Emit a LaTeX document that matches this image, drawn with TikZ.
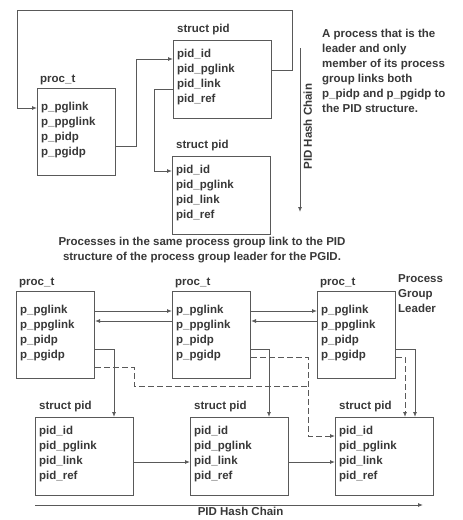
\documentclass[tikz,border=0pt]{standalone}
\usepackage{fontspec}
\setmainfont{Liberation Sans}
\usetikzlibrary{arrows.meta,calc}

\definecolor{linegray}{gray}{0.35}
\definecolor{textgray}{gray}{0.22}

\begin{document}
\begin{tikzpicture}[x=1pt,y=-1pt,
  every node/.style={font=\fontsize{11.5}{15}\selectfont\bfseries, text=textgray},
  procbox/.style={draw=linegray, line width=1pt, anchor=north west, minimum width=78pt, minimum height=87pt, inner sep=0},
  pidbox/.style={procbox, minimum width=98pt, minimum height=78pt},
  field/.style={anchor=west, inner sep=0},
  title/.style={anchor=base west, inner sep=0},
  link/.style={draw=linegray, line width=0.9pt, -{Latex[length=5pt,width=4pt]}},
  pglink/.style={link, dash pattern=on 6pt off 3pt},
]
\useasboundingbox (0,0) rectangle (463,520);

% proc_t boxes
\foreach \n/\x/\y in {procA/37/88, procL/16/291, procM/172/291, procR/317/291} {
  \node[procbox] (\n) at (\x,\y) {};
  \node[title] at ($(\n.north west)+(3,-6)$) {proc\_t};
  \foreach \f [count=\i] in {p\_pglink,p\_ppglink,p\_pidp,p\_pgidp}
    \node[field] (\n-\i) at ($(\n.north west)+(4,{5+15*\i})$) {\f};
}

% struct pid boxes
\foreach \n/\x/\y in {pidA/173/40, pidB/172/156, pidL/35/417, pidM/190/417, pidR/335/417} {
  \node[pidbox] (\n) at (\x,\y) {};
  \node[title] at ($(\n.north west)+(4,-8)$) {struct pid};
  \foreach \f [count=\i] in {pid\_id,pid\_pglink,pid\_link,pid\_ref}
    \node[field] (\n-\i) at ($(\n.north west)+(4,{15*\i})$) {\f};
}

% top: leader alone in its group
\draw[link] (pidA.east |- pidA-2) -- ++(20,0) |- (17,10) |- (procA.west |- procA-1);
\draw[link] ($(procA.east |- procA-3)+(0,8)$) -- ++(20,0) |- ($(pidA.west |- pidA-1)+(0,4)$);
\draw[link] ($(pidA.west |- pidA-3)+(0,4)$) -- ++(-19,0) |- (pidB.west |- pidB-1);

\coordinate (chainA) at (300,48);
\coordinate (chainB) at (300,212);
\draw[link] (chainA) -- (chainB) node[pos=0.48, rotate=90, anchor=north, inner sep=3pt] {PID Hash Chain};

\node[anchor=north west, align=left, inner sep=0] (note) at (322,29) {A process that is the\\leader and only\\member of its process\\group links both\\p\_pidp and p\_pgidp to\\the PID structure.};

\node[align=center, inner sep=0] (caption) at (202,250) {Processes in the same process group link to the PID\\structure of the process group leader for the PGID.};

\node[anchor=north west, align=left, inner sep=0] (leader) at (398,274) {Process\\Group\\Leader};

% bottom: group of three processes
\draw[link] (procL.east |- procL-1) -- (procM.west |- procM-1);
\draw[link] ($(procM.west |- procM-1)+(0,10)$) -- ($(procL.east |- procL-1)+(0,10)$);
\draw[link] (procM.east |- procM-1) -- (procR.west |- procR-1);
\draw[link] ($(procR.west |- procR-1)+(0,10)$) -- ($(procM.east |- procM-1)+(0,10)$);

\draw[link] ($(procL.east |- procL-3)+(0,8)$) -- ++(19,0) coordinate (dropL) -- (dropL |- pidL.north);
\draw[link] ($(procM.east |- procM-3)+(0,8)$) -- ++(18,0) coordinate (dropM) -- (dropM |- pidM.north);
\draw[link] ($(procR.east |- procR-3)+(0,8)$) -- ++(19,0) coordinate (dropR) -- (dropR |- pidR.north);

\draw[pglink] ($(procR.east |- procR-4)+(0,1)$) -- ++(9,0) coordinate (dashR) -- (dashR |- pidR.north);
\draw[pglink] ($(procM.east |- procM-4)+(0,1)$) -- ++(57,0) coordinate (dashM) |- ($(pidR.west |- pidR-1)+(0,4)$);
\draw[pglink, -] ($(procL.east |- procL-4)+(0,11)$) -- ++(39,0) -- ++(0,19) coordinate (dashL) -- (dashL -| dashM);

\draw[link] (pidL.east |- pidL-3) -- (pidM.west |- pidM-3);
\draw[link] (pidM.east |- pidM-3) -- (pidR.west |- pidR-3);

\coordinate (chainL) at ($(pidL.south west)+(0,9)$);
\coordinate (chainR) at ($(pidR.south east)+(-11,9)$);
\draw[link] (chainL) -- (chainR) node[pos=0.53, anchor=north, inner sep=0, yshift=-2pt] {PID Hash Chain};
\end{tikzpicture}
\end{document}
